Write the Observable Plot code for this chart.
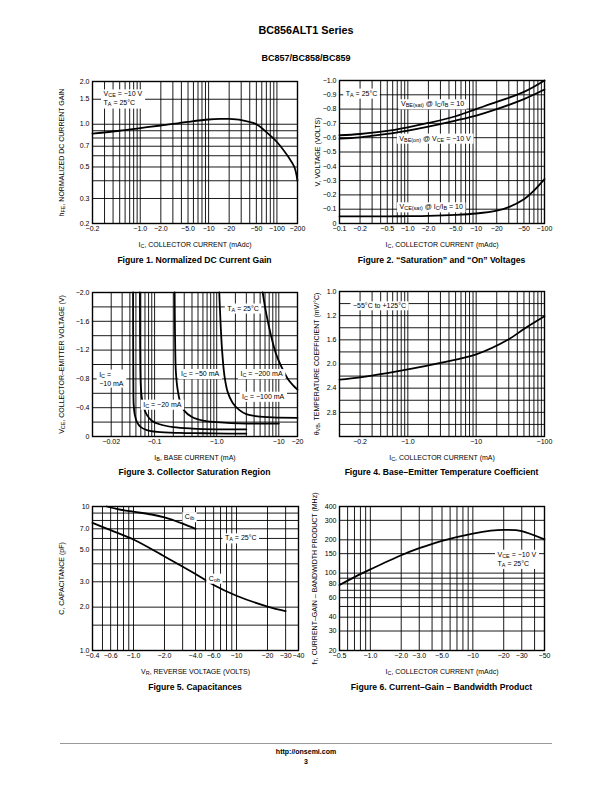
<!DOCTYPE html>
<html><head><meta charset="utf-8">
<script src="https://cdn.jsdelivr.net/npm/d3@7"></script>
<script src="https://cdn.jsdelivr.net/npm/@observablehq/plot@0.6"></script>
<style>
html,body{margin:0;padding:0;background:#fff;}
#page{position:relative;width:612px;height:792px;overflow:hidden;font-family:'Liberation Sans',Arial,Helvetica,sans-serif;color:#000;}
.t{position:absolute;left:0;width:612px;text-align:center;font-weight:bold;white-space:nowrap;}
.cap{position:absolute;width:300px;text-align:center;font-weight:bold;font-size:8.6px;line-height:10px;white-space:nowrap;}
.chart{position:absolute;}
.chart svg{overflow:visible;}
</style></head><body><div id="page">
<div class="t" style="top:24px;font-size:10.8px;line-height:12px;">BC856ALT1 Series</div>
<div class="t" style="top:52.5px;font-size:9px;line-height:11px;">BC857/BC858/BC859</div>
<div class="cap" style="left:44.5px;top:255px;">Figure 1. Normalized DC Current Gain</div>
<div class="cap" style="left:291.5px;top:255px;">Figure 2. “Saturation” and “On” Voltages</div>
<div class="cap" style="left:44.5px;top:467px;">Figure 3. Collector Saturation Region</div>
<div class="cap" style="left:291.5px;top:467px;">Figure 4. Base–Emitter Temperature Coefficient</div>
<div class="cap" style="left:45px;top:682px;">Figure 5. Capacitances</div>
<div class="cap" style="left:291.5px;top:682px;">Figure 6. Current–Gain – Bandwidth Product</div>
<div style="position:absolute;left:60px;top:743px;width:492px;height:1px;background:#999;"></div>
<div class="t" style="top:748px;font-size:7px;line-height:8px;">http://onsemi.com</div>
<div class="t" style="top:757.5px;font-size:7px;line-height:8px;">3</div>
</div>
<script>
// ---------------- Figure 1: normalized DC current gain ----------------
const f1Ic  = [0.2, 0.5, 1, 2, 5, 10, 15, 20, 30, 50, 70, 100, 150, 180, 200];
const f1Hfe = [0.86, 0.9, 0.94, 0.98, 1.04, 1.08, 1.09, 1.09, 1.07, 1.0, 0.88, 0.75, 0.58, 0.5, 0.4];
const f1XGrid = [0.2,0.3,0.4,0.5,0.6,0.7,0.8,0.9,1,2,3,4,5,6,7,8,9,10,20,30,40,50,60,70,80,90,100,200];
const f1YGrid = [0.2,0.3,0.4,0.5,0.6,0.7,0.8,0.9,1.0,1.5,2.0];
const f1XTicks = [0.2,0.5,1,2,5,10,20,50,100,200];
const f1XLabels = ["−0.2","−0.5","−1.0","−2.0","−5.0","−10","−20","−50","−100","−200"];
const f1YTicks = [0.2,0.3,0.5,0.7,1.0,1.5,2.0];
const f1YLabels = ["0.2","0.3","0.5","0.7","1.0","1.5","2.0"];
const f1Notes = [{text: "V_{CE} = −10 V\nT_{A} = 25°C", x: 0.29, y: 1.53, anchor: "start"}];

// ---------------- Figure 2: saturation and on voltages ----------------
const f2Ic     = [0.1, 0.2, 0.5, 1, 2, 5, 10, 20, 50, 100];
const f2VbeSat = [0.617, 0.626, 0.647, 0.673, 0.703, 0.75, 0.80, 0.85, 0.92, 1.0];
const f2VbeOn  = [0.593, 0.603, 0.626, 0.65, 0.678, 0.72, 0.755, 0.80, 0.87, 0.937];
const f2IcSat  = [0.1, 0.5, 1, 2, 5, 10, 20, 30, 50, 70, 100];
const f2VceSat = [0.05, 0.05, 0.051, 0.053, 0.06, 0.07, 0.09, 0.115, 0.17, 0.23, 0.31];
const f2XGrid = [0.1,0.2,0.3,0.4,0.5,0.6,0.7,0.8,0.9,1,2,3,4,5,6,7,8,9,10,20,30,40,50,60,70,80,90,100];
const f2YGrid = [0,0.1,0.2,0.3,0.4,0.5,0.6,0.7,0.8,0.9,1.0];
const f2XTicks = [0.1,0.2,0.5,1,2,5,10,20,50,100];
const f2XLabels = ["−0.1","−0.2","−0.5","−1.0","−2.0","−5.0","−10","−20","−50","−100"];
const f2YTicks = [0,0.1,0.2,0.3,0.4,0.5,0.6,0.7,0.8,0.9,1.0];
const f2YLabels = ["0","−0.1","−0.2","−0.3","−0.4","−0.5","−0.6","−0.7","−0.8","−0.9","−1.0"];
const f2Notes = [
  {text: "T_{A} = 25°C", x: 0.21, y: 0.915, anchor: "middle"},
  {text: "V_{BE(sat)} @ I_{C}/I_{B} = 10", x: 2.3, y: 0.84, anchor: "middle"},
  {text: "V_{BE(on)} @ V_{CE} = −10 V", x: 2.5, y: 0.6, anchor: "middle"},
  {text: "V_{CE(sat)} @ I_{C}/I_{B} = 10", x: 2.2, y: 0.12, anchor: "middle"}
];

// ---------------- Figure 3: collector saturation region ----------------
const f3Ib10  = [0.045, 0.0452, 0.0455, 0.046, 0.048, 0.052, 0.06, 0.075, 0.11, 0.25, 0.6, 1.5, 3];
const f3Vce10 = [2.0, 1.2, 0.7, 0.45, 0.3, 0.2, 0.13, 0.09, 0.065, 0.05, 0.045, 0.04, 0.04];
const f3Ib20  = [0.058, 0.0583, 0.059, 0.06, 0.062, 0.066, 0.075, 0.09, 0.12, 0.2, 0.4, 1, 3];
const f3Vce20 = [2.0, 1.4, 0.9, 0.7, 0.55, 0.42, 0.3, 0.22, 0.17, 0.13, 0.11, 0.1, 0.1];
const f3Ib50  = [0.21, 0.212, 0.215, 0.22, 0.235, 0.26, 0.3, 0.4, 0.6, 1, 3, 10];
const f3Vce50 = [2.0, 1.6, 1.2, 0.9, 0.65, 0.47, 0.36, 0.27, 0.22, 0.2, 0.18, 0.18];
const f3Ib100  = [1.1, 1.15, 1.22, 1.33, 1.5, 1.8, 2.3, 3, 4.5, 8, 20];
const f3Vce100 = [2.0, 1.6, 1.2, 0.85, 0.62, 0.47, 0.37, 0.31, 0.28, 0.265, 0.26];
const f3Ib200  = [5.5, 6.3, 7.5, 9, 11, 14, 17, 20];
const f3Vce200 = [2.0, 1.7, 1.4, 1.15, 0.97, 0.8, 0.71, 0.65];
const f3XGrid = [0.01,0.02,0.03,0.04,0.05,0.06,0.07,0.08,0.09,0.1,0.2,0.3,0.4,0.5,0.6,0.7,0.8,0.9,1,2,3,4,5,6,7,8,9,10,20];
const f3YGrid = [0,0.2,0.4,0.6,0.8,1.0,1.2,1.4,1.6,1.8,2.0];
const f3XTicks = [0.02,0.1,1,10,20];
const f3XLabels = ["−0.02","−0.1","−1.0","−10","−20"];
const f3YTicks = [0,0.4,0.8,1.2,1.6,2.0];
const f3YLabels = ["0","−0.4","−0.8","−1.2","−1.6","−2.0"];
const f3Notes = [
  {text: "T_{A} = 25°C", x: 2.66, y: 1.79, anchor: "middle"},
  {text: "I_{C} =\n−10 mA", x: 0.0128, y: 0.81, anchor: "start"},
  {text: "I_{C} = −20 mA", x: 0.133, y: 0.455, anchor: "middle"},
  {text: "I_{C} = −50 mA", x: 0.54, y: 0.88, anchor: "middle"},
  {text: "I_{C} = −200 mA", x: 5.27, y: 0.88, anchor: "middle"},
  {text: "I_{C} = −100 mA", x: 5.6, y: 0.565, anchor: "middle"}
];

// ---------------- Figure 4: base-emitter temperature coefficient ----------------
const f4Ic    = [0.1, 0.2, 0.5, 1, 3, 10, 30, 50, 100];
const f4Theta = [2.26, 2.22, 2.15, 2.09, 1.98, 1.84, 1.59, 1.42, 1.21];
const f4XGrid = [0.1,0.2,0.3,0.4,0.5,0.6,0.7,0.8,0.9,1,2,3,4,5,6,7,8,9,10,20,30,40,50,60,70,80,90,100];
const f4YGrid = [0.8,1.0,1.2,1.4,1.6,1.8,2.0,2.2,2.4,2.6,2.8,3.0,3.2];
const f4XTicks = [0.2,1,10,100];
const f4XLabels = ["−0.2","−1.0","−10","−100"];
const f4YTicks = [0.8,1.2,1.6,2.0,2.4,2.8];
const f4YLabels = ["1.0","1.2","1.6","2.0","2.4","2.8"];
const f4Notes = [{text: "−55°C to +125°C", x: 0.385, y: 1.03, anchor: "middle"}];

// ---------------- Figure 5: capacitances ----------------
const f5VrCib = [0.55, 0.7, 1, 1.5, 2, 3, 4];
const f5Cib   = [10, 9.6, 9.2, 8.8, 8.4, 7.6, 7.0];
const f5VrCob = [0.4, 0.6, 1, 2, 4, 6, 10, 20, 30];
const f5Cob   = [7.7, 6.85, 5.9, 4.5, 3.4, 2.85, 2.4, 2.02, 1.88];
const f5XGrid = [0.4,0.5,0.6,0.7,0.8,0.9,1,2,3,4,5,6,7,8,9,10,20,30,40];
const f5YGrid = [1,1.5,2,3,4,5,6,7,8,9,10];
const f5XTicks = [0.4,0.6,1,2,4,6,10,20,30,40];
const f5XLabels = ["−0.4","−0.6","−1.0","−2.0","−4.0","−6.0","−10","−20","−30","−40"];
const f5YTicks = [1,2,3,5,7,10];
const f5YLabels = ["1.0","2.0","3.0","5.0","7.0","10"];
const f5Notes = [
  {text: "C_{ib}", x: 3.5, y: 8.56, anchor: "middle"},
  {text: "T_{A} = 25°C", x: 11, y: 6.1, anchor: "middle"},
  {text: "C_{ob}", x: 6.1, y: 3.2, anchor: "middle"}
];

// ---------------- Figure 6: current-gain bandwidth product ----------------
const f6Ic = [0.5, 0.7, 1, 2, 3, 5, 10, 15, 20, 30, 50];
const f6Ft = [78, 92, 108, 145, 168, 196, 228, 242, 246, 240, 202];
const f6XGrid = [0.5,0.6,0.7,0.8,0.9,1,2,3,4,5,6,7,8,9,10,20,30,40,50];
const f6YGrid = [20,30,40,50,60,70,80,90,100,150,200,300,400];
const f6XTicks = [0.5,1,2,3,5,10,20,30,50];
const f6XLabels = ["−0.5","−1.0","−2.0","−3.0","−5.0","−10","−20","−30","−50"];
const f6YTicks = [20,30,40,60,80,100,150,200,300,400];
const f6YLabels = ["20","30","40","60","80","100","150","200","300","400"];
const f6Notes = [{text: "V_{CE} = −10 V\nT_{A} = 25°C", x: 17.4, y: 136, anchor: "start"}];

// ---------------- rendering ----------------
const NS = "http://www.w3.org/2000/svg";
const FONT = "'Liberation Sans Narrow','Arial Narrow','Liberation Sans',Arial,sans-serif";
const page = document.getElementById("page");

const pts = (xs, ys) => xs.map((x, i) => ({x, y: ys[i]}));
const fmt = (ticks, labels) => d => { const i = ticks.findIndex(t => Math.abs(t - d) < 1e-9 * Math.max(1, Math.abs(t))); return i < 0 ? "" : labels[i]; };

function gridMarks(xg, yg) {
  return [
    Plot.ruleX(xg, {stroke: "#000", strokeWidth: 0.9}),
    Plot.ruleY(yg, {stroke: "#000", strokeWidth: 0.9})
  ];
}
function curve(xs, ys) {
  return Plot.line(pts(xs, ys), {x: "x", y: "y", stroke: "#000", strokeWidth: 1.8, curve: "catmull-rom"});
}
function notes(arr) {
  return arr.map(n => Plot.text([n], {x: "x", y: "y", text: "text", textAnchor: n.anchor, fill: "#000", fontSize: 7, lineHeight: 1.3}));
}

function subscripts(svg) {
  svg.querySelectorAll("text, tspan").forEach(el => {
    if (el.children.length) return;
    const s = el.textContent;
    if (!s.includes("_{")) return;
    el.textContent = "";
    const re = /_\{([^}]*)\}/g; let last = 0, m;
    while ((m = re.exec(s))) {
      if (m.index > last) el.appendChild(document.createTextNode(s.slice(last, m.index)));
      const t = document.createElementNS(NS, "tspan");
      t.setAttribute("baseline-shift", "-22%");
      t.setAttribute("font-size", "78%");
      t.textContent = m[1];
      el.appendChild(t);
      last = re.lastIndex;
    }
    if (last < s.length) el.appendChild(document.createTextNode(s.slice(last)));
  });
}
// white label boxes behind the annotation texts (the only plain "text" marks)
function boxes(svg) {
  svg.querySelectorAll('g[aria-label="text"]').forEach(g => {
    g.querySelectorAll(":scope > text").forEach(t => {
      const b = t.getBBox();
      const r = document.createElementNS(NS, "rect");
      r.setAttribute("x", b.x - 2.5); r.setAttribute("y", b.y - 1);
      r.setAttribute("width", b.width + 5); r.setAttribute("height", b.height + 2);
      r.setAttribute("fill", "#fff"); r.setAttribute("stroke", "none");
      if (t.getAttribute("transform")) r.setAttribute("transform", t.getAttribute("transform"));
      g.insertBefore(r, t);
    });
  });
}

function chart({frame, box, x, y, marks}) {
  const [fl, ft, fr, fb] = frame;
  const [sl, st, sw, sh] = box;
  const svg = Plot.plot({
    width: sw, height: sh,
    marginLeft: fl - sl, marginTop: ft - st, marginRight: sl + sw - fr, marginBottom: st + sh - fb,
    style: {fontFamily: FONT, fontSize: "7px", background: "transparent", color: "#000", overflow: "visible"},
    x: {tickSize: 0, tickPadding: 3, labelAnchor: "center", labelArrow: "none", ...x},
    y: {tickSize: 0, tickPadding: 3, labelAnchor: "center", labelArrow: "none", ...y},
    marks: [...marks, Plot.frame({stroke: "#000", strokeWidth: 1.4})]
  });
  const div = document.createElement("div");
  div.className = "chart";
  div.style.left = sl + "px"; div.style.top = st + "px";
  div.appendChild(svg);
  page.appendChild(div);
  subscripts(svg);
  boxes(svg);
}

// log axes: a large tick count makes every 1–9 step a tick (so none is blanked); only the listed ones get a label
const logAxis = (domain, ticks, labels, extra) => ({type: "log", domain, ticks: 1000, tickFormat: fmt(ticks, labels), ...extra});
const linAxis = (domain, ticks, labels, extra) => ({type: "linear", domain, ticks, tickFormat: fmt(ticks, labels), ...extra});

const L = 40, R = 305, W = 272;

chart({
  frame: [92, 81, 297, 223], box: [L, 69, W, 184],
  x: logAxis([0.2, 200], f1XTicks, f1XLabels, {label: "I_{C}, COLLECTOR CURRENT (mAdc)", labelOffset: 23}),
  y: logAxis([0.2, 2.0], f1YTicks, f1YLabels, {label: "h_{FE}, NORMALIZED DC CURRENT GAIN", labelOffset: 33}),
  marks: [...gridMarks(f1XGrid, f1YGrid), curve(f1Ic, f1Hfe), ...notes(f1Notes)]
});

chart({
  frame: [339, 80, 544, 223], box: [R, 68, W, 185],
  x: logAxis([0.1, 100], f2XTicks, f2XLabels, {label: "I_{C}, COLLECTOR CURRENT (mAdc)", labelOffset: 23}),
  y: linAxis([0, 1.0], f2YTicks, f2YLabels, {label: "V, VOLTAGE (VOLTS)", labelOffset: 24}),
  marks: [...gridMarks(f2XGrid, f2YGrid), curve(f2Ic, f2VbeSat), curve(f2Ic, f2VbeOn), curve(f2IcSat, f2VceSat), ...notes(f2Notes)]
});

chart({
  frame: [92, 292, 297, 436], box: [L, 280, W, 176],
  x: logAxis([0.01, 20], f3XTicks, f3XLabels, {label: "I_{B}, BASE CURRENT (mA)", labelOffset: 23}),
  y: linAxis([0, 2.0], f3YTicks, f3YLabels, {label: "V_{CE}, COLLECTOR–EMITTER VOLTAGE (V)", labelOffset: 33}),
  marks: [...gridMarks(f3XGrid, f3YGrid), curve(f3Ib10, f3Vce10), curve(f3Ib20, f3Vce20), curve(f3Ib50, f3Vce50), curve(f3Ib100, f3Vce100), curve(f3Ib200, f3Vce200), ...notes(f3Notes)]
});

chart({
  frame: [339, 291, 544, 436], box: [R, 279, W, 177],
  x: logAxis([0.1, 100], f4XTicks, f4XLabels, {label: "I_{C}, COLLECTOR CURRENT (mA)", labelOffset: 23}),
  y: linAxis([0.8, 3.2], f4YTicks, f4YLabels, {reverse: true, label: "θ_{VB}, TEMPERATURE COEFFICIENT (mV/°C)", labelOffset: 25}),
  marks: [...gridMarks(f4XGrid, f4YGrid), curve(f4Ic, f4Theta), ...notes(f4Notes)]
});

chart({
  frame: [92, 506, 298, 650], box: [L, 494, W, 176],
  x: logAxis([0.4, 40], f5XTicks, f5XLabels, {label: "V_{R}, REVERSE VOLTAGE (VOLTS)", labelOffset: 23}),
  y: logAxis([1, 10], f5YTicks, f5YLabels, {label: "C, CAPACITANCE (pF)", labelOffset: 33}),
  marks: [...gridMarks(f5XGrid, f5YGrid), curve(f5VrCib, f5Cib), curve(f5VrCob, f5Cob), ...notes(f5Notes)]
});

chart({
  frame: [339, 506, 544, 650], box: [R, 494, W, 176],
  x: logAxis([0.5, 50], f6XTicks, f6XLabels, {label: "I_{C}, COLLECTOR CURRENT (mAdc)", labelOffset: 23}),
  y: logAxis([20, 400], f6YTicks, f6YLabels, {label: "f_{T}, CURRENT–GAIN – BANDWIDTH PRODUCT (MHz)", labelOffset: 27}),
  marks: [...gridMarks(f6XGrid, f6YGrid), curve(f6Ic, f6Ft), ...notes(f6Notes)]
});
</script>
</body></html>
